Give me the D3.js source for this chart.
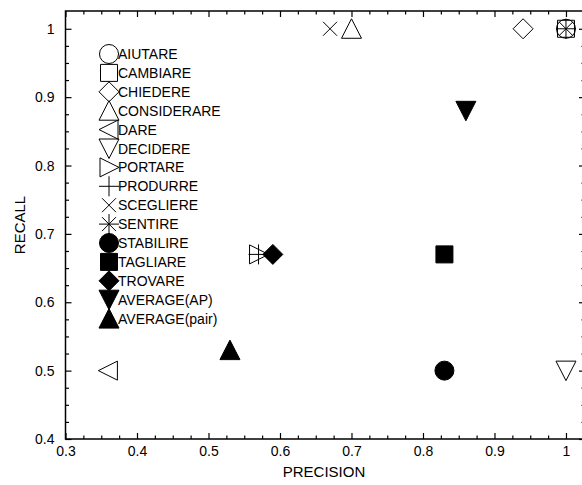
<!DOCTYPE html>
<html>
<head>
<meta charset="utf-8">
<script src="https://cdn.jsdelivr.net/npm/d3@7"></script>
<style>
  html, body { margin: 0; padding: 0; background: #fff; overflow: hidden; }
  svg { display: block; font-family: "Liberation Sans", Arial, sans-serif; }
</style>
</head>
<body>
<svg id="chart" width="582" height="485"></svg>
<script>
// ---- Data ----
const categories = ["AIUTARE", "CAMBIARE", "CHIEDERE", "CONSIDERARE", "DARE", "DECIDERE",
  "PORTARE", "PRODURRE", "SCEGLIERE", "SENTIRE", "STABILIRE", "TAGLIARE", "TROVARE",
  "AVERAGE(AP)", "AVERAGE(pair)"];
const precision = [1.00, 1.00, 0.94, 0.70, 0.36, 1.00, 0.57, 0.57, 0.67, 1.00, 0.83, 0.83, 0.59, 0.86, 0.53];
const recall    = [1.00, 1.00, 1.00, 1.00, 0.50, 0.50, 0.67, 0.67, 1.00, 1.00, 0.50, 0.67, 0.67, 0.88, 0.53];
const xTicks = [0.3, 0.4, 0.5, 0.6, 0.7, 0.8, 0.9, 1.0];
const xTickLabels = ["0.3", "0.4", "0.5", "0.6", "0.7", "0.8", "0.9", "1"];
const yTicks = [0.4, 0.5, 0.6, 0.7, 0.8, 0.9, 1.0];
const yTickLabels = ["0.4", "0.5", "0.6", "0.7", "0.8", "0.9", "1"];
const xTitle = "PRECISION";
const yTitle = "RECALL";

// ---- Styles (marker shape, filled) per series ----
const markerShapes = ["circle", "square", "diamond", "triUp", "triLeft", "triDown",
  "triRight", "plus", "times", "star", "circle", "square", "diamond", "triDown", "triUp"];
const markerFilled = [false, false, false, false, false, false,
  false, false, false, false, true, true, true, true, true];

// ---- Layout ----
const svg = d3.select("#chart");
const mLeft = 65.5, mRight = 585, mTop = 11, mBottom = 439;
const x = d3.scaleLinear().domain([0.3, 1.0266]).range([mLeft, mRight]);
const y = d3.scaleLinear().domain([0.4, 1.026]).range([mBottom, mTop]);

const xMinor = d3.range(0.3, 1.03, 0.025).filter(v => Math.abs(v * 10 - Math.round(v * 10)) > 1e-6);
const yMinor = d3.range(0.4, 1.02, 0.025).filter(v => Math.abs(v * 10 - Math.round(v * 10)) > 1e-6);

function styleAxis(g) {
  g.select(".domain").remove();
  g.selectAll(".tick line").attr("stroke", "#000").attr("stroke-width", 1.2);
  g.selectAll(".tick text").attr("fill", "#000").style("font-size", "14px")
    .style("font-family", "'Liberation Sans', Arial, sans-serif");
}

const fmtX = d => xTickLabels[xTicks.findIndex(t => Math.abs(t - d) < 1e-9)];
const fmtY = d => yTickLabels[yTicks.findIndex(t => Math.abs(t - d) < 1e-9)];

// bottom
svg.append("g").attr("transform", `translate(0,${mBottom})`)
  .call(d3.axisBottom(x).tickValues(xTicks).tickFormat(fmtX).tickSize(-6).tickPadding(7)).call(styleAxis);
svg.append("g").attr("transform", `translate(0,${mBottom})`)
  .call(d3.axisBottom(x).tickValues(xMinor).tickFormat("").tickSize(-3.5)).call(styleAxis);
// top
svg.append("g").attr("transform", `translate(0,${mTop})`)
  .call(d3.axisTop(x).tickValues(xTicks).tickFormat("").tickSize(-6)).call(styleAxis);
svg.append("g").attr("transform", `translate(0,${mTop})`)
  .call(d3.axisTop(x).tickValues(xMinor).tickFormat("").tickSize(-3.5)).call(styleAxis);
// left
svg.append("g").attr("transform", `translate(${mLeft},0)`)
  .call(d3.axisLeft(y).tickValues(yTicks).tickFormat(fmtY).tickSize(-6).tickPadding(11)).call(styleAxis);
svg.append("g").attr("transform", `translate(${mLeft},0)`)
  .call(d3.axisLeft(y).tickValues(yMinor).tickFormat("").tickSize(-3.5)).call(styleAxis);
// right
svg.append("g").attr("transform", `translate(${mRight},0)`)
  .call(d3.axisRight(y).tickValues(yTicks).tickFormat("").tickSize(-6)).call(styleAxis);
svg.append("g").attr("transform", `translate(${mRight},0)`)
  .call(d3.axisRight(y).tickValues(yMinor).tickFormat("").tickSize(-3.5)).call(styleAxis);

// frame
svg.append("rect").attr("x", mLeft).attr("y", mTop)
  .attr("width", mRight - mLeft).attr("height", mBottom - mTop)
  .attr("fill", "none").attr("stroke", "#000").attr("stroke-width", 1.5);

// axis titles
svg.append("text").attr("x", 324).attr("y", 477)
  .attr("text-anchor", "middle").style("font-size", "15px").attr("fill", "#000").text(xTitle);
svg.append("text").attr("transform", `translate(25,${(mTop + mBottom) / 2}) rotate(-90)`)
  .attr("text-anchor", "middle").style("font-size", "15px").attr("fill", "#000").text(yTitle);

// ---- markers ----
function markerPath(type) {
  const p = d3.path();
  switch (type) {
    case "circle": p.moveTo(9.5, 0); p.arc(0, 0, 9.5, 0, 2 * Math.PI); break;
    case "square": p.rect(-8.5, -8.5, 17, 17); break;
    case "diamond": p.moveTo(0, -10); p.lineTo(10, 0); p.lineTo(0, 10); p.lineTo(-10, 0); p.closePath(); break;
    case "triUp": p.moveTo(0, -10); p.lineTo(10, 9.5); p.lineTo(-10, 9.5); p.closePath(); break;
    case "triDown": p.moveTo(0, 10); p.lineTo(10, -9.5); p.lineTo(-10, -9.5); p.closePath(); break;
    case "triLeft": p.moveTo(-10, 0); p.lineTo(9, -9.5); p.lineTo(9, 9.5); p.closePath(); break;
    case "triRight": p.moveTo(10, 0); p.lineTo(-9, -9.5); p.lineTo(-9, 9.5); p.closePath(); break;
    case "plus": p.moveTo(-10, 0); p.lineTo(10, 0); p.moveTo(0, -10); p.lineTo(0, 10); break;
    case "times": p.moveTo(-7, -7); p.lineTo(7, 7); p.moveTo(-7, 7); p.lineTo(7, -7); break;
    case "star":
      p.moveTo(-10, 0); p.lineTo(10, 0); p.moveTo(0, -10); p.lineTo(0, 10);
      p.moveTo(-7, -7); p.lineTo(7, 7); p.moveTo(-7, 7); p.lineTo(7, -7); break;
  }
  return p.toString();
}

const pts = categories.map((c, i) => ({
  name: c, px: precision[i], ry: recall[i], shape: markerShapes[i], filled: markerFilled[i]
}));

function drawMarker(sel) {
  sel.attr("d", d => markerPath(d.shape))
    .attr("fill", d => d.filled ? "#000" : "none")
    .attr("stroke", "#000")
    .attr("stroke-width", 1);
}

svg.append("g").selectAll("path").data(pts).join("path")
  .attr("transform", d => `translate(${x(d.px)},${y(d.ry)})`)
  .call(drawMarker);

// ---- legend ----
const lg = svg.append("g");
const legX = 109, legY0 = 54, legStep = 18.9;
const items = lg.selectAll("g").data(pts).join("g")
  .attr("transform", (d, i) => `translate(${legX},${legY0 + i * legStep})`);
items.append("path").call(drawMarker);
items.append("text").attr("x", 9).attr("dy", "0.36em")
  .style("font-size", "14px").attr("fill", "#000").text(d => d.name);
</script>
</body>
</html>
